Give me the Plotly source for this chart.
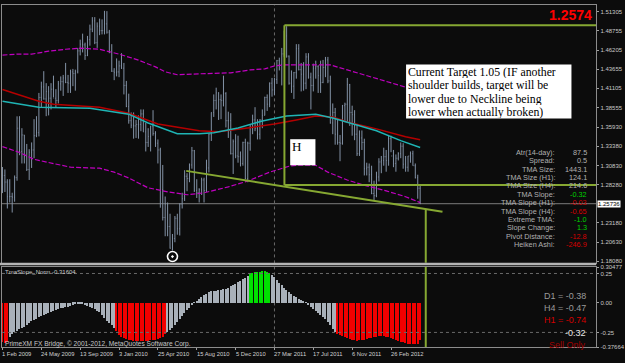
import plotly.graph_objects as go
import pandas as pd

# ------------------------------------------------------------------ data
week_start = "2009-02-01"
n_weeks = 173

opens = [1.2800,1.2950,1.2862,1.2668,1.2670,1.2660,1.2920,1.3580,1.3270,1.3490,1.3200,1.3030,1.3260,1.3290,1.3480,1.3520,1.3990,1.4130,1.3970,1.4070,
         1.3980,1.4100,1.3980,1.3950,1.4170,1.4200,1.4250,1.4190,1.4180,1.4330,1.4310,1.4330,1.4610,1.4700,1.4690,1.4550,1.4760,1.4900,1.5010,1.4720,
         1.4940,1.4880,1.4880,1.4970,1.4860,1.4610,1.4340,1.4320,1.4330,1.4410,1.4380,1.4150,1.3870,1.3680,1.3620,1.3610,1.3630,1.3630,1.3770,1.3530,
         1.3390,1.3470,1.3610,1.3510,1.3380,1.3290,1.2760,1.2390,1.2570,1.2270,1.1960,1.2110,1.2380,1.2240,1.2570,1.2640,1.2940,1.2910,1.3090,1.3280,
         1.2750,1.2720,1.2760,1.2890,1.2750,1.3050,1.3500,1.3790,1.3950,1.4050,1.3960,1.3950,1.4040,1.3680,1.3680,1.3240,1.3400,1.3210,1.3200,1.3110,
         1.3390,1.2910,1.3380,1.3610,1.3690,1.3580,1.3500,1.3690,1.3750,1.3990,1.3900,1.4180,1.4090,1.4230,1.4480,1.4430,1.4570,1.4810,1.4540,1.4180,
         1.4140,1.4320,1.4640,1.4360,1.4300,1.4180,1.4530,1.4260,1.4150,1.4380,1.4400,1.4280,1.4190,1.4390,1.4490,1.4210,1.3650,1.3790,1.3500,1.3390,
         1.3380,1.3880,1.3900,1.4160,1.3790,1.3760,1.3500,1.3240,1.3450,1.3390,1.3040,1.3060,1.2960,1.2710,1.2680,1.2930,1.3130,1.3150,1.3200,1.3150,
         1.3440,1.3210,1.3110,1.3180,1.3240,1.3340,1.3100,1.3060,1.3210,1.3240,1.3080,1.2920,1.2780]
highs = [1.3063,1.3030,1.2900,1.2900,1.2720,1.2950,1.3738,1.3740,1.3580,1.3490,1.3370,1.3300,1.3390,1.3700,1.3740,1.4050,1.4200,1.4340,1.4180,1.4140,
         1.4180,1.4280,1.4100,1.4210,1.4270,1.4290,1.4450,1.4290,1.4360,1.4370,1.4360,1.4650,1.4760,1.4840,1.4720,1.4810,1.4960,1.5060,1.5060,1.4990,
         1.5040,1.5030,1.5144,1.5140,1.4890,1.4700,1.4380,1.4510,1.4480,1.4580,1.4450,1.4210,1.4040,1.3790,1.3790,1.3690,1.3750,1.3830,1.3830,1.3650,
         1.3580,1.3610,1.3820,1.3540,1.3430,1.3320,1.3090,1.2670,1.2590,1.2440,1.2170,1.2410,1.2440,1.2580,1.2720,1.3020,1.2980,1.3110,1.3330,1.3290,
         1.2900,1.2780,1.2920,1.2920,1.3160,1.3510,1.3790,1.4030,1.4120,1.4060,1.4030,1.4280,1.4060,1.3800,1.3780,1.3430,1.3500,1.3480,1.3270,1.3400,
         1.3440,1.3400,1.3620,1.3760,1.3860,1.3700,1.3700,1.3830,1.4000,1.4030,1.4190,1.4250,1.4250,1.4490,1.4520,1.4650,1.4880,1.4940,1.4550,1.4350,
         1.4330,1.4700,1.4700,1.4450,1.4460,1.4580,1.4580,1.4320,1.4440,1.4480,1.4420,1.4480,1.4490,1.4530,1.4530,1.4280,1.3910,1.3850,1.3690,1.3490,
         1.3890,1.3920,1.4250,1.4170,1.3880,1.3820,1.3620,1.3550,1.3550,1.3440,1.3120,1.3110,1.3080,1.2880,1.3000,1.3180,1.3210,1.3320,1.3290,1.3490,
         1.3480,1.3290,1.3230,1.3260,1.3390,1.3380,1.3210,1.3210,1.3270,1.3280,1.3110,1.2960,1.2820]
lows = [1.2715,1.2730,1.2510,1.2590,1.2456,1.2600,1.2880,1.3220,1.3110,1.3110,1.3010,1.2890,1.3050,1.3180,1.3460,1.3470,1.3860,1.3960,1.3740,1.3750,
        1.3830,1.3990,1.3860,1.3910,1.4080,1.4010,1.4180,1.4050,1.4050,1.4140,1.4080,1.4310,1.4550,1.4590,1.4490,1.4540,1.4680,1.4860,1.4700,1.4650,
        1.4820,1.4830,1.4830,1.4840,1.4580,1.4330,1.4220,1.4270,1.4260,1.4370,1.4030,1.3860,1.3640,1.3580,1.3440,1.3450,1.3440,1.3540,1.3530,1.3270,
        1.3330,1.3270,1.3480,1.3330,1.3110,1.2520,1.2350,1.2140,1.2140,1.1975,1.1952,1.2060,1.2160,1.2150,1.2510,1.2610,1.2740,1.2860,1.3040,1.2730,
        1.2650,1.2590,1.2690,1.2590,1.2730,1.2990,1.3410,1.3730,1.3830,1.3690,1.3700,1.3870,1.3590,1.3450,1.3230,1.2970,1.3180,1.3120,1.3070,1.3080,
        1.2900,1.2860,1.3280,1.3500,1.3540,1.3430,1.3430,1.3580,1.3750,1.3810,1.3860,1.4000,1.4020,1.4170,1.4350,1.4150,1.4530,1.4520,1.4160,1.4050,
        1.3970,1.4240,1.4350,1.4070,1.4080,1.4100,1.4240,1.3830,1.4070,1.4240,1.4050,1.4050,1.4180,1.4260,1.4180,1.3640,1.3500,1.3360,1.3360,1.3140,
        1.3360,1.3660,1.3660,1.3610,1.3480,1.3420,1.3210,1.3210,1.3290,1.2950,1.2950,1.2860,1.2700,1.2624,1.2660,1.2870,1.2980,1.3080,1.3000,1.3080,
        1.3260,1.3060,1.3000,1.3150,1.3180,1.3040,1.3000,1.3000,1.3120,1.3080,1.2910,1.2640,1.2570]
closes = [1.2950,1.2862,1.2668,1.2670,1.2660,1.2920,1.3580,1.3270,1.3490,1.3200,1.3030,1.3260,1.3290,1.3480,1.3520,1.3990,1.4130,1.3970,1.4070,1.3980,
          1.4100,1.3980,1.3950,1.4170,1.4200,1.4250,1.4190,1.4180,1.4330,1.4310,1.4330,1.4610,1.4700,1.4690,1.4550,1.4760,1.4900,1.5010,1.4720,1.4940,
          1.4880,1.4880,1.4970,1.4860,1.4610,1.4340,1.4320,1.4330,1.4410,1.4380,1.4150,1.3870,1.3680,1.3620,1.3610,1.3630,1.3630,1.3770,1.3530,1.3390,
          1.3470,1.3610,1.3510,1.3380,1.3290,1.2760,1.2390,1.2570,1.2270,1.1980,1.2110,1.2380,1.2240,1.2570,1.2640,1.2940,1.2910,1.3090,1.3280,1.2750,
          1.2720,1.2760,1.2890,1.2750,1.3050,1.3500,1.3790,1.3950,1.4050,1.3960,1.3950,1.4040,1.3680,1.3680,1.3240,1.3400,1.3210,1.3200,1.3110,1.3390,
          1.2910,1.3380,1.3610,1.3690,1.3580,1.3500,1.3690,1.3750,1.3990,1.3900,1.4180,1.4090,1.4230,1.4480,1.4430,1.4570,1.4810,1.4540,1.4180,1.4140,
          1.4320,1.4640,1.4360,1.4300,1.4180,1.4530,1.4260,1.4150,1.4380,1.4400,1.4280,1.4190,1.4390,1.4490,1.4210,1.3650,1.3790,1.3500,1.3390,1.3380,
          1.3880,1.3900,1.4160,1.3790,1.3760,1.3500,1.3240,1.3450,1.3390,1.3040,1.3060,1.2960,1.2710,1.2680,1.2930,1.3130,1.3150,1.3200,1.3150,1.3440,
          1.3210,1.3110,1.3180,1.3240,1.3340,1.3100,1.3060,1.3210,1.3240,1.3080,1.2920,1.2780,1.2574]

bid = 1.25736
price_title = "1.2574"

price_ticks = [1.51305, 1.48755, 1.46205, 1.43655, 1.41105, 1.38555, 1.35930,
               1.33380, 1.30830, 1.28280, 1.23180, 1.20630, 1.18080]
slope_ticks = [0.30477, 0.25, 0.0, -0.25, -0.37664]
slope_tick_text = ["0.30477", "0.25", "0.00", "-0.25", "-0.37664"]

date_label_idx = [0, 16, 32, 48, 64, 80, 96, 112, 128, 144, 160]
date_labels = ["1 Feb 2009", "24 May 2009", "13 Sep 2009", "3 Jan 2010", "25 Apr 2010",
               "15 Aug 2010", "5 Dec 2010", "27 Mar 2011", "17 Jul 2011", "6 Nov 2011", "26 Feb 2012"]

# TMA bands / moving averages, read at sample weeks
upper_wk = [0, 6, 12, 19, 26, 32, 40, 45, 48, 56, 63, 67, 72, 81, 94, 102, 108, 112, 116, 129, 135, 142, 150, 158, 166, 172]
upper_px = [1.4554, 1.4567, 1.4567, 1.4606, 1.4632, 1.4646, 1.4632, 1.4593, 1.4567, 1.4488, 1.4397, 1.4331, 1.4292,
            1.4305, 1.4318, 1.4357, 1.4370, 1.4410, 1.4423, 1.4423, 1.4423, 1.4357, 1.4279, 1.4200, 1.4121, 1.4069]
lower_wk = [0, 7, 13, 21, 28, 40, 46, 52, 60, 68, 76, 83, 93, 101, 110, 118, 121, 129, 134, 142, 150, 158, 166, 172]
lower_px = [1.3335, 1.3256, 1.3165, 1.3112, 1.3060, 1.3047, 1.2994, 1.2916, 1.2785, 1.2732, 1.2693, 1.2719,
            1.2798, 1.2876, 1.2994, 1.3073, 1.3086, 1.3086, 1.2994, 1.2889, 1.2811, 1.2745, 1.2667, 1.2588]
red_wk = [0, 15, 21, 40, 52, 64, 81, 89, 101, 112, 121, 129, 136, 142, 154, 166, 172]
red_px = [1.4095, 1.3938, 1.3898, 1.3859, 1.3780, 1.3636, 1.3545, 1.3531, 1.3584, 1.3636, 1.3689, 1.3741,
          1.3728, 1.3662, 1.3571, 1.3466, 1.3427]
tma_wk = [0, 15, 36, 52, 60, 72, 81, 87, 97, 107, 117, 129, 136, 144, 154, 164, 172]
tma_px = [1.3938, 1.3859, 1.3846, 1.3767, 1.3649, 1.3505, 1.3505, 1.3518, 1.3584, 1.3676, 1.3741, 1.3767,
          1.3715, 1.3636, 1.3545, 1.3414, 1.3322]

tma_slope = [-0.335,-0.34,-0.33,-0.29,-0.265,-0.25,-0.235,-0.22,-0.21,-0.20,-0.185,-0.17,-0.157,-0.145,-0.132,-0.12,-0.11,-0.10,-0.092,-0.085,
             -0.077,-0.07,-0.06,-0.05,-0.045,-0.04,-0.035,-0.03,-0.022,-0.015,-0.01,-0.005,-0.003,-0.01,-0.017,-0.025,-0.035,-0.045,-0.055,-0.065,
             -0.08,-0.10,-0.125,-0.15,-0.17,-0.19,-0.215,-0.24,-0.27,-0.285,-0.30,-0.308,-0.315,-0.318,-0.32,-0.323,-0.325,-0.326,-0.325,-0.322,
             -0.32,-0.318,-0.315,-0.31,-0.305,-0.295,-0.285,-0.265,-0.245,-0.228,-0.21,-0.185,-0.16,-0.135,-0.11,-0.085,-0.06,-0.04,-0.02,0.005,
             0.02,0.035,0.05,0.065,0.08,0.09,0.10,0.103,0.105,0.108,0.11,0.115,0.12,0.13,0.14,0.15,0.16,0.175,0.19,0.203,
             0.215,0.23,0.245,0.253,0.26,0.263,0.265,0.268,0.27,0.265,0.255,0.24,0.22,0.195,0.17,0.15,0.13,0.11,0.09,0.075,
             0.06,0.047,0.035,0.025,0.015,0.005,-0.02,-0.035,-0.05,-0.068,-0.085,-0.10,-0.12,-0.14,-0.16,-0.19,-0.22,-0.245,-0.26,-0.27,
             -0.28,-0.29,-0.30,-0.308,-0.315,-0.318,-0.32,-0.318,-0.315,-0.31,-0.305,-0.30,-0.295,-0.29,-0.285,-0.282,-0.28,-0.282,-0.285,-0.292,
             -0.30,-0.308,-0.315,-0.322,-0.33,-0.335,-0.34,-0.345,-0.35,-0.352,-0.35,-0.345,-0.316]
slope_state = (["sell"] * 3 + ["flat"] * 44 + ["sell"] * 21 + ["flat"] * 34 +
               ["buy"] * 9 + ["flat"] * 27 + ["sell"] * 35)

# drawn objects (head & shoulders study)
head_level = 1.4951
neck_level = 1.2824
head_week = 116.1
neck_weeks = [75.65, 181.2]
neck_prices = [1.3011, 1.2466]
break_week = 174.3
low_marker_week = 70
low_marker_price = 1.1870
vline_week = 112

info_labels = ["Atr(14-day):", "Spread:", "TMA Size:", "TMA Size (H1):", "TMA Size (H4):", "TMA Slope:",
               "TMA Slope (H1):", "TMA Slope (H4):", "Extreme TMA:", "Slope Change:", "Pivot Distance:", "Heiken Ashi:"]
info_values = ["87.5", "0.5", "1443.1", "124.1", "214.6", "-0.32", "-0.03", "-0.65", "-1.0", "1.3", "-12.8", "-246.9"]
info_kind = ["n", "n", "n", "n", "n", "g", "r", "r", "g", "g", "r", "r"]

tf_texts = ["D1 = -0.38", "H4 = -0.47", "H1 = -0.74", "-0.32", "Sell Only"]
tf_colors = ["#9a9a9a", "#9a9a9a", "#d40000", "#e6e6e6", "#a00000"]

note_lines = ["Current Target 1.05 (IF another", "shoulder builds, target will be",
              "lower due to Neckline being", "lower when actually broken)"]

# ------------------------------------------------------------------ geometry / style
W, H = 625, 363
BG = "#0c0c0c"
BAR = "#8392a6"
GREEN = "#86a832"
SANS = "Liberation Sans, Arial, sans-serif"
SERIF = "Liberation Serif, Times New Roman, serif"

def px(x):
    return x / W

def py(y):
    return (H - y) / H

t0 = pd.Timestamp(week_start)
weeks = pd.date_range(week_start, periods=n_weeks, freq="7D")

def wk(w):
    return t0 + pd.Timedelta(days=7 * w)

MAIN_L, MAIN_R = 2, 602
MAIN_T, MAIN_B = 2, 264
IND_T, IND_B = 268.4, 350.2
PX_PER_WEEK = 2.452
BAR0 = 2.5
x_range = [wk((MAIN_L - BAR0) / PX_PER_WEEK), wk((MAIN_R - BAR0) / PX_PER_WEEK)]
y_range = [1.17883, 1.52222]

fig = go.Figure()

# price bars
fig.add_trace(go.Ohlc(x=weeks, open=opens, high=highs, low=lows, close=closes,
                      increasing_line_color=BAR, decreasing_line_color=BAR,
                      line_width=1, tickwidth=0.25, xaxis="x", yaxis="y", hoverinfo="skip"))

def line(xs, ys, color, width, dash="solid", xa="x", ya="y"):
    fig.add_trace(go.Scatter(x=xs, y=ys, mode="lines", line=dict(color=color, width=width, dash=dash),
                             xaxis=xa, yaxis=ya, hoverinfo="skip", showlegend=False))

line([weeks[i] for i in upper_wk], upper_px, "#c000c0", 1.2, "5px,2px")
line([weeks[i] for i in lower_wk], lower_px, "#c000c0", 1.2, "5px,2px")
line([weeks[i] for i in red_wk], red_px, "#b40000", 1.5)
line([weeks[i] for i in tma_wk], tma_px, "#1fb4b4", 1.5)

# head & shoulders study
far = 260
line([wk(head_week), wk(far)], [head_level, head_level], GREEN, 2)
line([wk(head_week), wk(far)], [neck_level, neck_level], GREEN, 2)
line([wk(head_week), wk(head_week)], [head_level, neck_level], GREEN, 2)
line([wk(w) for w in neck_weeks], neck_prices, GREEN, 2)
neck_at_break = neck_prices[0] + (break_week - neck_weeks[0]) * (neck_prices[1] - neck_prices[0]) / (neck_weeks[1] - neck_weeks[0])
line([wk(break_week), wk(break_week)], [neck_at_break, y_range[0] - 0.05], GREEN, 2)
line([wk(break_week), wk(break_week)], [0.5, -0.5], GREEN, 2, xa="x2", ya="y2")

fig.add_trace(go.Scatter(x=[weeks[low_marker_week]], y=[low_marker_price], mode="markers",
                         marker=dict(symbol="circle-open-dot", size=10, color="#ffffff", line=dict(width=1.6, color="#ffffff")),
                         xaxis="x", yaxis="y", hoverinfo="skip", showlegend=False))

# indicator histogram
state_color = {"sell": "#f20000", "flat": "#a9b1ba", "buy": "#00e000"}
fig.add_trace(go.Bar(x=weeks, y=tma_slope, marker=dict(color=[state_color[s] for s in slope_state], line_width=0),
                     width=[0.55 * 7 * 86400000] * n_weeks, xaxis="x2", yaxis="y2", hoverinfo="skip", showlegend=False))

shapes = []
shapes.append(dict(type="line", xref="x domain", yref="y", x0=0, x1=1, y0=bid, y1=bid,
                   line=dict(color="#7d7d7d", width=1), layer="below"))
for lv in (0.25, -0.25):
    shapes.append(dict(type="line", xref="x2 domain", yref="y2", x0=0, x1=1, y0=lv, y1=lv,
                       line=dict(color="#6a6a6a", width=1, dash="dot")))
shapes.append(dict(type="line", xref="x", yref="paper", x0=weeks[vline_week], x1=weeks[vline_week],
                   y0=py(IND_B), y1=py(MAIN_T), line=dict(color="#6a6a6a", width=1, dash="dot"), layer="below"))
shapes.append(dict(type="rect", xref="paper", yref="paper", x0=0, x1=px(MAIN_R), y0=py(266.6), y1=py(MAIN_B),
                   fillcolor="#b4b4b4", line_width=0))
shapes.append(dict(type="rect", xref="paper", yref="paper", x0=px(410), x1=px(577), y0=py(117.5), y1=py(62.5),
                   fillcolor="#ffffff", line_width=0))
shapes.append(dict(type="rect", xref="paper", yref="paper", x0=px(293), x1=px(318.5), y0=py(165), y1=py(138.5),
                   fillcolor="#ffffff", line_width=0))

ann = []
for i, t in enumerate(note_lines):
    ann.append(dict(text=t, xref="paper", yref="paper", x=px(411), y=py(69.5 + 13.6 * i), xanchor="left",
                    yanchor="middle", showarrow=False, height=13, borderpad=0,
                    font=dict(family=SERIF, size=11.8, color="#000000")))
ann.append(dict(text="H", xref="paper", yref="paper", x=px(293), y=py(146), xanchor="left", yanchor="middle",
                showarrow=False, font=dict(family=SERIF, size=13, color="#000000")))
ann.append(dict(text="<b>%s</b>" % price_title, xref="paper", yref="paper", x=px(600), y=py(12), xanchor="right",
                yanchor="middle", showarrow=False, font=dict(family=SANS, size=14, color="#ff0000")))
kind_color = {"n": "#b0b0b0", "g": "#00d000", "r": "#d40000"}
for i, (lab, val, k) in enumerate(zip(info_labels, info_values, info_kind)):
    yy = py(151.8 + 8.55 * i)
    ann.append(dict(text=lab, xref="paper", yref="paper", x=px(562), y=yy, xanchor="right", yanchor="middle",
                    showarrow=False, font=dict(family=SANS, size=7.3, color="#b0b0b0")))
    ann.append(dict(text=val, xref="paper", yref="paper", x=px(595), y=yy, xanchor="right", yanchor="middle",
                    showarrow=False, font=dict(family=SANS, size=7.3, color=kind_color[k])))
for i, (t, c) in enumerate(zip(tf_texts, tf_colors)):
    ann.append(dict(text=t, xref="paper", yref="paper", x=px(594), y=py(298.3 + 12.25 * i), xanchor="right",
                    yanchor="middle", showarrow=False, font=dict(family=SANS, size=9, color=c)))
ann.append(dict(text="TmaSlope_Norm -0.31604", xref="paper", yref="paper", x=px(3), y=py(274), xanchor="left",
                yanchor="middle", showarrow=False, font=dict(family=SANS, size=6, color="#c8c8c8")))
ann.append(dict(text="PrimeXM FX Bridge, © 2001-2012, MetaQuotes Software Corp.", xref="paper", yref="paper",
                x=px(3), y=py(347), xanchor="left", yanchor="middle", showarrow=False,
                font=dict(family=SANS, size=6.6, color="#c8c8c8")))
for i, t in zip(date_label_idx, date_labels):
    ann.append(dict(text=t, xref="x2", yref="paper", x=weeks[i], y=py(356.5), xanchor="left", yanchor="middle",
                    xshift=-2, showarrow=False, font=dict(family=SANS, size=5.8, color="#d0d0d0")))
ann.append(dict(text="1.25736", xref="paper", yref="y", x=px(MAIN_R + 1), y=bid, xanchor="left", yanchor="middle",
                showarrow=False, bgcolor="#ffffff", borderpad=0, font=dict(family=SANS, size=6, color="#000000")))

axis_common = dict(showgrid=False, zeroline=False, linecolor="#8c8c8c", linewidth=1, showline=True, mirror=True)
fig.update_layout(
    width=W, height=H, margin=dict(l=0, r=0, t=0, b=0),
    paper_bgcolor=BG, plot_bgcolor=BG, showlegend=False, bargap=0,
    xaxis=dict(domain=[px(MAIN_L), px(MAIN_R)], range=x_range, type="date", anchor="y",
               showticklabels=False, ticks="", rangeslider=dict(visible=False), **axis_common),
    xaxis2=dict(domain=[px(MAIN_L), px(MAIN_R)], range=x_range, type="date", anchor="y2", matches="x",
                tickvals=[weeks[i] for i in date_label_idx], showticklabels=False, ticks="outside",
                ticklen=2, tickcolor="#a0a0a0", rangeslider=dict(visible=False), **axis_common),
    yaxis=dict(domain=[py(MAIN_B), py(MAIN_T)], range=y_range, side="right", anchor="x",
               tickvals=price_ticks, ticktext=["%.5f" % v for v in price_ticks], ticks="outside", ticklen=2,
               tickcolor="#a0a0a0", tickfont=dict(family=SANS, size=6, color="#c8c8c8"), **axis_common),
    yaxis2=dict(domain=[py(IND_B), py(IND_T)], range=[-0.3772, 0.3052], side="right", anchor="x2",
                tickvals=slope_ticks, ticktext=slope_tick_text, ticks="outside", ticklen=2,
                tickcolor="#a0a0a0", tickfont=dict(family=SANS, size=6, color="#c8c8c8"), **axis_common),
    shapes=shapes, annotations=ann,
)

fig.write_html("out.html")
